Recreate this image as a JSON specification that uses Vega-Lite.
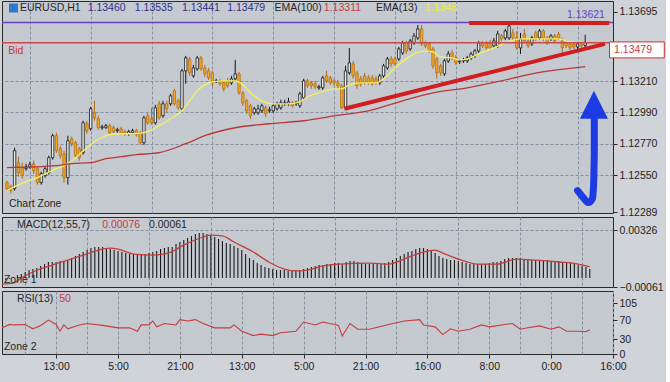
{
"$schema": "https://vega.github.io/schema/vega-lite/v6.json",
"background": "#d0d3d7",
"padding": {"left": 0, "top": 0, "right": 0, "bottom": 26},
"spacing": 4,
"bounds": "flush",
"config": {
 "view": {"fill": "#c5cad1", "stroke": "#2a2a2a", "strokeWidth": 1},
 "font": "Liberation Sans",
 "axis": {"labelFont": "Liberation Sans", "labelFontSize": 10.5, "labelColor": "#1e1e1e", "tickColor": "#2a2a2a", "gridColor": "#8591a3", "gridDash": [3, 2], "gridWidth": 1, "domain": false, "title": null, "labelOverlap": false}
},
"datasets": {
 "k": [
{"i":0,"o":1.12498,"h":1.12512,"l":1.12442,"c":1.12456},
{"i":1,"o":1.12470,"h":1.12484,"l":1.12421,"c":1.12442},
{"i":2,"o":1.12456,"h":1.12743,"l":1.12442,"c":1.12722},
{"i":3,"o":1.12638,"h":1.12680,"l":1.12540,"c":1.12568},
{"i":4,"o":1.12603,"h":1.12638,"l":1.12526,"c":1.12547},
{"i":5,"o":1.12596,"h":1.12631,"l":1.12582,"c":1.12610},
{"i":6,"o":1.12610,"h":1.12645,"l":1.12596,"c":1.12624},
{"i":7,"o":1.12631,"h":1.12652,"l":1.12561,"c":1.12582},
{"i":8,"o":1.12596,"h":1.12610,"l":1.12484,"c":1.12498},
{"i":9,"o":1.12498,"h":1.12575,"l":1.12484,"c":1.12561},
{"i":10,"o":1.12547,"h":1.12610,"l":1.12533,"c":1.12596},
{"i":11,"o":1.12568,"h":1.12687,"l":1.12554,"c":1.12673},
{"i":12,"o":1.12673,"h":1.12841,"l":1.12659,"c":1.12827},
{"i":13,"o":1.12827,"h":1.12848,"l":1.12708,"c":1.12722},
{"i":14,"o":1.12736,"h":1.12757,"l":1.12666,"c":1.12687},
{"i":15,"o":1.12701,"h":1.12722,"l":1.12498,"c":1.12533},
{"i":16,"o":1.12533,"h":1.12827,"l":1.12484,"c":1.12792},
{"i":17,"o":1.12806,"h":1.12820,"l":1.12750,"c":1.12771},
{"i":18,"o":1.12778,"h":1.12792,"l":1.12673,"c":1.12687},
{"i":19,"o":1.12736,"h":1.12750,"l":1.12652,"c":1.12673},
{"i":20,"o":1.12708,"h":1.12932,"l":1.12694,"c":1.12918},
{"i":21,"o":1.12911,"h":1.12932,"l":1.12841,"c":1.12862},
{"i":22,"o":1.12876,"h":1.13030,"l":1.12862,"c":1.13016},
{"i":23,"o":1.12988,"h":1.13072,"l":1.12932,"c":1.12953},
{"i":24,"o":1.12946,"h":1.12967,"l":1.12869,"c":1.12883},
{"i":25,"o":1.12883,"h":1.12904,"l":1.12869,"c":1.12890},
{"i":26,"o":1.12883,"h":1.12911,"l":1.12876,"c":1.12897},
{"i":27,"o":1.12897,"h":1.12911,"l":1.12834,"c":1.12848},
{"i":28,"o":1.12883,"h":1.12897,"l":1.12841,"c":1.12855},
{"i":29,"o":1.12862,"h":1.12883,"l":1.12848,"c":1.12869},
{"i":30,"o":1.12876,"h":1.12890,"l":1.12834,"c":1.12848},
{"i":31,"o":1.12855,"h":1.12869,"l":1.12827,"c":1.12841},
{"i":32,"o":1.12841,"h":1.12869,"l":1.12827,"c":1.12855},
{"i":33,"o":1.12848,"h":1.12876,"l":1.12834,"c":1.12862},
{"i":34,"o":1.12862,"h":1.12876,"l":1.12820,"c":1.12834},
{"i":35,"o":1.12848,"h":1.12862,"l":1.12764,"c":1.12778},
{"i":36,"o":1.12778,"h":1.12967,"l":1.12764,"c":1.12953},
{"i":37,"o":1.12967,"h":1.12988,"l":1.12904,"c":1.12918},
{"i":38,"o":1.12946,"h":1.13023,"l":1.12904,"c":1.12918},
{"i":39,"o":1.12918,"h":1.13044,"l":1.12904,"c":1.13023},
{"i":40,"o":1.13051,"h":1.13072,"l":1.12939,"c":1.12953},
{"i":41,"o":1.12967,"h":1.13072,"l":1.12953,"c":1.13051},
{"i":42,"o":1.13051,"h":1.13072,"l":1.12988,"c":1.13016},
{"i":43,"o":1.13051,"h":1.13121,"l":1.13037,"c":1.13107},
{"i":44,"o":1.13142,"h":1.13156,"l":1.13037,"c":1.13051},
{"i":45,"o":1.13072,"h":1.13086,"l":1.13009,"c":1.13023},
{"i":46,"o":1.13016,"h":1.13296,"l":1.13002,"c":1.13282},
{"i":47,"o":1.13282,"h":1.13387,"l":1.13191,"c":1.13373},
{"i":48,"o":1.13366,"h":1.13380,"l":1.13247,"c":1.13268},
{"i":49,"o":1.13247,"h":1.13324,"l":1.13233,"c":1.13303},
{"i":50,"o":1.13296,"h":1.13387,"l":1.13282,"c":1.13373},
{"i":51,"o":1.13373,"h":1.13387,"l":1.13282,"c":1.13296},
{"i":52,"o":1.13303,"h":1.13324,"l":1.13240,"c":1.13261},
{"i":53,"o":1.13282,"h":1.13303,"l":1.13219,"c":1.13233},
{"i":54,"o":1.13268,"h":1.13282,"l":1.13170,"c":1.13198},
{"i":55,"o":1.13205,"h":1.13226,"l":1.13198,"c":1.13212},
{"i":56,"o":1.13212,"h":1.13226,"l":1.13177,"c":1.13191},
{"i":57,"o":1.13198,"h":1.13212,"l":1.13135,"c":1.13156},
{"i":58,"o":1.13212,"h":1.13233,"l":1.13163,"c":1.13177},
{"i":59,"o":1.13198,"h":1.13247,"l":1.13184,"c":1.13226},
{"i":60,"o":1.13226,"h":1.13359,"l":1.13212,"c":1.13261},
{"i":61,"o":1.13261,"h":1.13275,"l":1.13114,"c":1.13128},
{"i":62,"o":1.13128,"h":1.13142,"l":1.13037,"c":1.13058},
{"i":63,"o":1.13072,"h":1.13086,"l":1.12981,"c":1.13002},
{"i":64,"o":1.13037,"h":1.13051,"l":1.12946,"c":1.12967},
{"i":65,"o":1.12988,"h":1.13030,"l":1.12974,"c":1.13016},
{"i":66,"o":1.12988,"h":1.13044,"l":1.12974,"c":1.13016},
{"i":67,"o":1.13002,"h":1.13051,"l":1.12988,"c":1.13037},
{"i":68,"o":1.13023,"h":1.13037,"l":1.12960,"c":1.12981},
{"i":69,"o":1.13002,"h":1.13030,"l":1.12988,"c":1.13009},
{"i":70,"o":1.13002,"h":1.13051,"l":1.12988,"c":1.13037},
{"i":71,"o":1.13016,"h":1.13065,"l":1.13002,"c":1.13051},
{"i":72,"o":1.13023,"h":1.13079,"l":1.13009,"c":1.13058},
{"i":73,"o":1.13051,"h":1.13079,"l":1.13037,"c":1.13058},
{"i":74,"o":1.13051,"h":1.13093,"l":1.13037,"c":1.13065},
{"i":75,"o":1.13058,"h":1.13072,"l":1.13023,"c":1.13037},
{"i":76,"o":1.13051,"h":1.13072,"l":1.13037,"c":1.13058},
{"i":77,"o":1.13037,"h":1.13135,"l":1.13023,"c":1.13121},
{"i":78,"o":1.13093,"h":1.13226,"l":1.13079,"c":1.13212},
{"i":79,"o":1.13212,"h":1.13226,"l":1.13163,"c":1.13177},
{"i":80,"o":1.13198,"h":1.13212,"l":1.13156,"c":1.13177},
{"i":81,"o":1.13191,"h":1.13212,"l":1.13156,"c":1.13170},
{"i":82,"o":1.13163,"h":1.13184,"l":1.13149,"c":1.13170},
{"i":83,"o":1.13163,"h":1.13247,"l":1.13149,"c":1.13233},
{"i":84,"o":1.13247,"h":1.13282,"l":1.13198,"c":1.13212},
{"i":85,"o":1.13233,"h":1.13247,"l":1.13184,"c":1.13198},
{"i":86,"o":1.13212,"h":1.13226,"l":1.13177,"c":1.13198},
{"i":87,"o":1.13198,"h":1.13219,"l":1.13156,"c":1.13177},
{"i":88,"o":1.13177,"h":1.13191,"l":1.13016,"c":1.13023},
{"i":89,"o":1.13023,"h":1.13317,"l":1.13016,"c":1.13282},
{"i":90,"o":1.13268,"h":1.13443,"l":1.13254,"c":1.13338},
{"i":91,"o":1.13331,"h":1.13352,"l":1.13226,"c":1.13247},
{"i":92,"o":1.13268,"h":1.13282,"l":1.13156,"c":1.13177},
{"i":93,"o":1.13226,"h":1.13247,"l":1.13170,"c":1.13191},
{"i":94,"o":1.13247,"h":1.13268,"l":1.13184,"c":1.13198},
{"i":95,"o":1.13233,"h":1.13254,"l":1.13184,"c":1.13198},
{"i":96,"o":1.13233,"h":1.13254,"l":1.13177,"c":1.13191},
{"i":97,"o":1.13226,"h":1.13247,"l":1.13184,"c":1.13198},
{"i":98,"o":1.13198,"h":1.13261,"l":1.13184,"c":1.13247},
{"i":99,"o":1.13247,"h":1.13331,"l":1.13233,"c":1.13317},
{"i":100,"o":1.13303,"h":1.13380,"l":1.13289,"c":1.13366},
{"i":101,"o":1.13366,"h":1.13387,"l":1.13310,"c":1.13331},
{"i":102,"o":1.13366,"h":1.13380,"l":1.13317,"c":1.13331},
{"i":103,"o":1.13366,"h":1.13450,"l":1.13352,"c":1.13436},
{"i":104,"o":1.13408,"h":1.13492,"l":1.13394,"c":1.13478},
{"i":105,"o":1.13478,"h":1.13492,"l":1.13401,"c":1.13422},
{"i":106,"o":1.13436,"h":1.13506,"l":1.13422,"c":1.13492},
{"i":107,"o":1.13478,"h":1.13548,"l":1.13464,"c":1.13527},
{"i":108,"o":1.13513,"h":1.13604,"l":1.13499,"c":1.13576},
{"i":109,"o":1.13576,"h":1.13604,"l":1.13457,"c":1.13471},
{"i":110,"o":1.13478,"h":1.13492,"l":1.13443,"c":1.13457},
{"i":111,"o":1.13471,"h":1.13485,"l":1.13408,"c":1.13422},
{"i":112,"o":1.13436,"h":1.13450,"l":1.13296,"c":1.13317},
{"i":113,"o":1.13366,"h":1.13380,"l":1.13226,"c":1.13268},
{"i":114,"o":1.13317,"h":1.13331,"l":1.13247,"c":1.13268},
{"i":115,"o":1.13261,"h":1.13366,"l":1.13247,"c":1.13352},
{"i":116,"o":1.13352,"h":1.13422,"l":1.13338,"c":1.13401},
{"i":117,"o":1.13408,"h":1.13429,"l":1.13359,"c":1.13373},
{"i":118,"o":1.13373,"h":1.13394,"l":1.13324,"c":1.13338},
{"i":119,"o":1.13345,"h":1.13366,"l":1.13331,"c":1.13352},
{"i":120,"o":1.13352,"h":1.13373,"l":1.13338,"c":1.13359},
{"i":121,"o":1.13352,"h":1.13387,"l":1.13338,"c":1.13373},
{"i":122,"o":1.13373,"h":1.13415,"l":1.13359,"c":1.13401},
{"i":123,"o":1.13387,"h":1.13436,"l":1.13373,"c":1.13422},
{"i":124,"o":1.13422,"h":1.13492,"l":1.13408,"c":1.13478},
{"i":125,"o":1.13478,"h":1.13492,"l":1.13443,"c":1.13457},
{"i":126,"o":1.13478,"h":1.13492,"l":1.13429,"c":1.13443},
{"i":127,"o":1.13478,"h":1.13499,"l":1.13429,"c":1.13443},
{"i":128,"o":1.13457,"h":1.13513,"l":1.13443,"c":1.13492},
{"i":129,"o":1.13457,"h":1.13562,"l":1.13443,"c":1.13541},
{"i":130,"o":1.13527,"h":1.13541,"l":1.13492,"c":1.13506},
{"i":131,"o":1.13513,"h":1.13576,"l":1.13499,"c":1.13562},
{"i":132,"o":1.13513,"h":1.13618,"l":1.13499,"c":1.13597},
{"i":133,"o":1.13548,"h":1.13576,"l":1.13492,"c":1.13513},
{"i":134,"o":1.13513,"h":1.13562,"l":1.13429,"c":1.13443},
{"i":135,"o":1.13443,"h":1.13548,"l":1.13401,"c":1.13506},
{"i":136,"o":1.13541,"h":1.13576,"l":1.13478,"c":1.13492},
{"i":137,"o":1.13492,"h":1.13506,"l":1.13443,"c":1.13457},
{"i":138,"o":1.13471,"h":1.13527,"l":1.13457,"c":1.13513},
{"i":139,"o":1.13548,"h":1.13562,"l":1.13492,"c":1.13506},
{"i":140,"o":1.13513,"h":1.13576,"l":1.13499,"c":1.13562},
{"i":141,"o":1.13562,"h":1.13576,"l":1.13492,"c":1.13513},
{"i":142,"o":1.13513,"h":1.13527,"l":1.13464,"c":1.13478},
{"i":143,"o":1.13506,"h":1.13541,"l":1.13492,"c":1.13527},
{"i":144,"o":1.13527,"h":1.13541,"l":1.13478,"c":1.13492},
{"i":145,"o":1.13541,"h":1.13555,"l":1.13499,"c":1.13513},
{"i":146,"o":1.13492,"h":1.13513,"l":1.13408,"c":1.13443},
{"i":147,"o":1.13478,"h":1.13492,"l":1.13443,"c":1.13457},
{"i":148,"o":1.13471,"h":1.13485,"l":1.13429,"c":1.13443},
{"i":149,"o":1.13471,"h":1.13485,"l":1.13436,"c":1.13450},
{"i":150,"o":1.13450,"h":1.13485,"l":1.13436,"c":1.13471},
{"i":151,"o":1.13471,"h":1.13485,"l":1.13443,"c":1.13457},
{"i":152,"o":1.13460,"h":1.13535,"l":1.13441,"c":1.13479}
 ],
 "ema": [
{"k":"e13","i":0,"p":1.12442},{"k":"e13","i":2,"p":1.12470},{"k":"e13","i":5,"p":1.12505},{"k":"e13","i":8,"p":1.12533},{"k":"e13","i":13,"p":1.12596},{"k":"e13","i":15,"p":1.12617},{"k":"e13","i":18,"p":1.12673},{"k":"e13","i":21,"p":1.12743},{"k":"e13","i":23,"p":1.12785},{"k":"e13","i":26,"p":1.12827},{"k":"e13","i":29,"p":1.12841},{"k":"e13","i":33,"p":1.12841},{"k":"e13","i":36,"p":1.12848},{"k":"e13","i":38,"p":1.12869},{"k":"e13","i":40,"p":1.12897},{"k":"e13","i":43,"p":1.12946},{"k":"e13","i":46,"p":1.13002},{"k":"e13","i":48,"p":1.13072},{"k":"e13","i":50,"p":1.13142},{"k":"e13","i":52,"p":1.13184},{"k":"e13","i":54,"p":1.13205},{"k":"e13","i":57,"p":1.13212},{"k":"e13","i":60,"p":1.13212},{"k":"e13","i":62,"p":1.13184},{"k":"e13","i":64,"p":1.13128},{"k":"e13","i":67,"p":1.13072},{"k":"e13","i":70,"p":1.13051},{"k":"e13","i":74,"p":1.13051},{"k":"e13","i":77,"p":1.13065},{"k":"e13","i":79,"p":1.13100},{"k":"e13","i":82,"p":1.13128},{"k":"e13","i":86,"p":1.13156},{"k":"e13","i":88,"p":1.13156},{"k":"e13","i":90,"p":1.13184},{"k":"e13","i":93,"p":1.13198},{"k":"e13","i":97,"p":1.13198},{"k":"e13","i":99,"p":1.13226},{"k":"e13","i":102,"p":1.13303},{"k":"e13","i":105,"p":1.13366},{"k":"e13","i":107,"p":1.13401},{"k":"e13","i":110,"p":1.13422},{"k":"e13","i":112,"p":1.13415},{"k":"e13","i":114,"p":1.13380},{"k":"e13","i":117,"p":1.13373},{"k":"e13","i":119,"p":1.13359},{"k":"e13","i":121,"p":1.13366},{"k":"e13","i":124,"p":1.13401},{"k":"e13","i":128,"p":1.13443},{"k":"e13","i":131,"p":1.13478},{"k":"e13","i":135,"p":1.13506},{"k":"e13","i":142,"p":1.13506},{"k":"e13","i":145,"p":1.13506},{"k":"e13","i":148,"p":1.13485},{"k":"e13","i":152,"p":1.13480},
{"k":"e100","i":0,"p":1.12603},{"k":"e100","i":13,"p":1.12617},{"k":"e100","i":17,"p":1.12631},{"k":"e100","i":22,"p":1.12638},{"k":"e100","i":26,"p":1.12666},{"k":"e100","i":30,"p":1.12680},{"k":"e100","i":34,"p":1.12694},{"k":"e100","i":40,"p":1.12708},{"k":"e100","i":47,"p":1.12771},{"k":"e100","i":52,"p":1.12827},{"k":"e100","i":60,"p":1.12883},{"k":"e100","i":69,"p":1.12911},{"k":"e100","i":78,"p":1.12932},{"k":"e100","i":86,"p":1.12967},{"k":"e100","i":95,"p":1.13002},{"k":"e100","i":104,"p":1.13072},{"k":"e100","i":112,"p":1.13128},{"k":"e100","i":121,"p":1.13163},{"k":"e100","i":130,"p":1.13212},{"k":"e100","i":138,"p":1.13261},{"k":"e100","i":147,"p":1.13296},{"k":"e100","i":152,"p":1.13311}
 ],
 "macd": [
{"i":0,"v":-0.00014},{"i":1,"v":-0.00014},{"i":2,"v":-0.00007},{"i":3,"v":0.00007},{"i":4,"v":0.00020},{"i":5,"v":0.00027},{"i":6,"v":0.00041},{"i":7,"v":0.00054},{"i":8,"v":0.00061},{"i":9,"v":0.00068},{"i":10,"v":0.00082},{"i":11,"v":0.00095},{"i":12,"v":0.00109},{"i":13,"v":0.00109},{"i":14,"v":0.00109},{"i":15,"v":0.00116},{"i":16,"v":0.00116},{"i":17,"v":0.00116},{"i":18,"v":0.00136},{"i":19,"v":0.00150},{"i":20,"v":0.00163},{"i":21,"v":0.00177},{"i":22,"v":0.00190},{"i":23,"v":0.00204},{"i":24,"v":0.00211},{"i":25,"v":0.00211},{"i":26,"v":0.00211},{"i":27,"v":0.00204},{"i":28,"v":0.00197},{"i":29,"v":0.00190},{"i":30,"v":0.00184},{"i":31,"v":0.00177},{"i":32,"v":0.00170},{"i":33,"v":0.00163},{"i":34,"v":0.00163},{"i":35,"v":0.00156},{"i":36,"v":0.00163},{"i":37,"v":0.00163},{"i":38,"v":0.00170},{"i":39,"v":0.00177},{"i":40,"v":0.00184},{"i":41,"v":0.00197},{"i":42,"v":0.00204},{"i":43,"v":0.00211},{"i":44,"v":0.00211},{"i":45,"v":0.00231},{"i":46,"v":0.00245},{"i":47,"v":0.00258},{"i":48,"v":0.00272},{"i":49,"v":0.00286},{"i":50,"v":0.00299},{"i":51,"v":0.00306},{"i":52,"v":0.00306},{"i":53,"v":0.00299},{"i":54,"v":0.00292},{"i":55,"v":0.00279},{"i":56,"v":0.00265},{"i":57,"v":0.00252},{"i":58,"v":0.00238},{"i":59,"v":0.00231},{"i":60,"v":0.00218},{"i":61,"v":0.00204},{"i":62,"v":0.00190},{"i":63,"v":0.00163},{"i":64,"v":0.00136},{"i":65,"v":0.00122},{"i":66,"v":0.00102},{"i":67,"v":0.00088},{"i":68,"v":0.00075},{"i":69,"v":0.00068},{"i":70,"v":0.00061},{"i":71,"v":0.00054},{"i":72,"v":0.00054},{"i":73,"v":0.00054},{"i":74,"v":0.00048},{"i":75,"v":0.00048},{"i":76,"v":0.00054},{"i":77,"v":0.00054},{"i":78,"v":0.00061},{"i":79,"v":0.00068},{"i":80,"v":0.00075},{"i":81,"v":0.00082},{"i":82,"v":0.00088},{"i":83,"v":0.00088},{"i":84,"v":0.00095},{"i":85,"v":0.00095},{"i":86,"v":0.00102},{"i":87,"v":0.00102},{"i":88,"v":0.00095},{"i":89,"v":0.00109},{"i":90,"v":0.00116},{"i":91,"v":0.00116},{"i":92,"v":0.00109},{"i":93,"v":0.00102},{"i":94,"v":0.00095},{"i":95,"v":0.00095},{"i":96,"v":0.00095},{"i":97,"v":0.00095},{"i":98,"v":0.00095},{"i":99,"v":0.00102},{"i":100,"v":0.00109},{"i":101,"v":0.00122},{"i":102,"v":0.00136},{"i":103,"v":0.00150},{"i":104,"v":0.00163},{"i":105,"v":0.00177},{"i":106,"v":0.00184},{"i":107,"v":0.00197},{"i":108,"v":0.00204},{"i":109,"v":0.00204},{"i":110,"v":0.00197},{"i":111,"v":0.00184},{"i":112,"v":0.00170},{"i":113,"v":0.00150},{"i":114,"v":0.00136},{"i":115,"v":0.00129},{"i":116,"v":0.00122},{"i":117,"v":0.00122},{"i":118,"v":0.00116},{"i":119,"v":0.00109},{"i":120,"v":0.00102},{"i":121,"v":0.00095},{"i":122,"v":0.00095},{"i":123,"v":0.00095},{"i":124,"v":0.00095},{"i":125,"v":0.00095},{"i":126,"v":0.00102},{"i":127,"v":0.00109},{"i":128,"v":0.00109},{"i":129,"v":0.00116},{"i":130,"v":0.00129},{"i":131,"v":0.00136},{"i":132,"v":0.00136},{"i":133,"v":0.00136},{"i":134,"v":0.00136},{"i":135,"v":0.00129},{"i":136,"v":0.00129},{"i":137,"v":0.00122},{"i":138,"v":0.00122},{"i":139,"v":0.00122},{"i":140,"v":0.00122},{"i":141,"v":0.00122},{"i":142,"v":0.00116},{"i":143,"v":0.00116},{"i":144,"v":0.00116},{"i":145,"v":0.00109},{"i":146,"v":0.00109},{"i":147,"v":0.00102},{"i":148,"v":0.00095},{"i":149,"v":0.00088},{"i":150,"v":0.00082},{"i":151,"v":0.00075},{"i":152,"v":0.00061}
 ],
 "sig": [
{"i":0,"v":-0.00041},{"i":3,"v":-0.00034},{"i":5,"v":0.0},{"i":8,"v":0.00041},{"i":13,"v":0.00088},{"i":17,"v":0.00122},{"i":21,"v":0.00156},{"i":26,"v":0.00197},{"i":28,"v":0.00204},{"i":30,"v":0.00197},{"i":34,"v":0.00163},{"i":39,"v":0.00156},{"i":43,"v":0.00170},{"i":47,"v":0.00224},{"i":52,"v":0.00279},{"i":54,"v":0.00292},{"i":57,"v":0.00286},{"i":60,"v":0.00245},{"i":65,"v":0.00177},{"i":69,"v":0.00109},{"i":73,"v":0.00061},{"i":76,"v":0.00048},{"i":79,"v":0.00054},{"i":83,"v":0.00082},{"i":87,"v":0.00095},{"i":95,"v":0.00102},{"i":100,"v":0.00095},{"i":104,"v":0.00129},{"i":108,"v":0.00170},{"i":112,"v":0.00190},{"i":114,"v":0.00170},{"i":118,"v":0.00129},{"i":123,"v":0.00095},{"i":128,"v":0.00095},{"i":133,"v":0.00129},{"i":138,"v":0.00122},{"i":144,"v":0.00109},{"i":149,"v":0.00095},{"i":152,"v":0.00076}
 ],
 "rsi": [
{"i":0,"v":54},{"i":2,"v":61},{"i":3,"v":60},{"i":6,"v":61},{"i":8,"v":52},{"i":10,"v":59},{"i":12,"v":70},{"i":14,"v":61},{"i":15,"v":47},{"i":16,"v":60},{"i":17,"v":52},{"i":20,"v":60},{"i":22,"v":63},{"i":26,"v":59},{"i":30,"v":54},{"i":33,"v":54},{"i":35,"v":47},{"i":36,"v":60},{"i":38,"v":60},{"i":39,"v":68},{"i":40,"v":56},{"i":42,"v":63},{"i":45,"v":60},{"i":46,"v":71},{"i":48,"v":68},{"i":50,"v":71},{"i":52,"v":63},{"i":55,"v":54},{"i":59,"v":54},{"i":60,"v":60},{"i":62,"v":47},{"i":65,"v":38},{"i":67,"v":41},{"i":70,"v":38},{"i":72,"v":44},{"i":76,"v":47},{"i":78,"v":66},{"i":81,"v":60},{"i":83,"v":66},{"i":86,"v":61},{"i":87,"v":59},{"i":88,"v":37},{"i":90,"v":63},{"i":92,"v":51},{"i":95,"v":51},{"i":100,"v":61},{"i":104,"v":68},{"i":108,"v":71},{"i":109,"v":60},{"i":112,"v":56},{"i":114,"v":40},{"i":116,"v":52},{"i":118,"v":47},{"i":121,"v":51},{"i":124,"v":60},{"i":126,"v":56},{"i":130,"v":61},{"i":132,"v":63},{"i":134,"v":51},{"i":136,"v":54},{"i":139,"v":58},{"i":142,"v":51},{"i":144,"v":56},{"i":146,"v":47},{"i":149,"v":47},{"i":151,"v":46},{"i":152,"v":50}
 ],
 "hl": [{"p":1.13621,"k":"hi"},{"p":1.13479,"k":"bid"}],
 "tl": [{"s":"a","i":121.5,"p":1.13618},{"s":"a","i":158.3,"p":1.13618},{"s":"b","i":88.7,"p":1.13016},{"s":"b","i":157.2,"p":1.13471}],
 "ar": [{"n":1,"i":150.0,"p":1.12442},{"n":2,"i":151.5,"p":1.12393},{"n":3,"i":152.8,"p":1.12358},{"n":4,"i":153.9,"p":1.12386},{"n":5,"i":154.2,"p":1.12477},{"n":6,"i":154.4,"p":1.12722},{"n":7,"i":154.4,"p":1.12946}],
 "ah": [{"i":154.3,"p":1.13044}],
 "bx": [{"i":158.4,"i2":172.8,"p":1.13485,"p2":1.13373}],
 "ic": [{"i":1.7,"p":1.13723}],
 "mt": [
{"i":3.4,"p":1.13723,"t":"EURUSD,H1","r":"lab"},
{"i":21.2,"p":1.13723,"t":"1.13460","r":"val"},
{"i":33.6,"p":1.13723,"t":"1.13535","r":"val"},
{"i":46.0,"p":1.13723,"t":"1.13441","r":"val"},
{"i":57.9,"p":1.13723,"t":"1.13479","r":"val"},
{"i":70.3,"p":1.13723,"t":"EMA(100)","r":"lab"},
{"i":83.3,"p":1.13723,"t":"1.13311","r":"red"},
{"i":97.0,"p":1.13723,"t":"EMA(13)","r":"lab"},
{"i":109.9,"p":1.13723,"t":"1.1348","r":"yel"},
{"i":0.3,"p":1.13422,"t":"Bid","r":"red"},
{"i":0.5,"p":1.12351,"t":"Chart Zone","r":"lab"},
{"i":159.6,"p":1.13429,"t":"1.13479","r":"red"}
 ],
 "pt": [{"i":157.2,"p":1.13674,"t":"1.13621","r":"pur"}],
 "xt": [
{"i":3.9,"v":0.0036,"t":"MACD(12,55,7)","r":"lab"},
{"i":25.9,"v":0.0036,"t":"0.00076","r":"red"},
{"i":38.0,"v":0.0036,"t":"0.00061","r":"lab"},
{"i":0.5,"v":-0.0001,"t":"Zone 1","r":"lab"}
 ],
 "rt": [
{"i":3.9,"v":113,"t":"RSI(13)","r":"lab"},
{"i":14.8,"v":113,"t":"50","r":"red"},
{"i":0.5,"v":14,"t":"Zone 2","r":"lab"}
 ]
},
"vconcat": [
 {
  "width": 611, "height": 212,
  "layer": [
   {"data": {"name": "k"}, "mark": {"type": "rule", "strokeWidth": 1, "clip": true},
    "encoding": {
     "x": {"field": "i", "type": "quantitative", "scale": {"domain": [0, 158], "nice": false, "zero": false},
       "axis": {"values": [6,14,22,30,38,46,54,62,70,78,86,94,102,110,118,126,134,142,150], "labels": false, "ticks": false, "domain": false, "grid": true, "title": null, "minExtent": 0, "maxExtent": 0}},
     "y": {"field": "l", "type": "quantitative", "scale": {"domain": [1.12285, 1.13772], "nice": false, "zero": false},
       "axis": {"orient": "right", "values": [1.13695, 1.1321, 1.1299, 1.1277, 1.1255, 1.12289], "format": ".5f", "tickSize": 4, "labelPadding": 2, "grid": true, "title": null, "labelOverlap": false,
         "gridOpacity": {"condition": {"test": "datum.value > 1.1365 || datum.value < 1.123", "value": 0}, "value": 1}}},
     "y2": {"field": "h"},
     "color": {"condition": {"test": "datum.c >= datum.o", "value": "#141414"}, "value": "#b06a12"}
    }},
   {"data": {"name": "k"}, "mark": {"type": "bar", "size": 2.4, "strokeWidth": 0.8, "clip": true},
    "encoding": {
     "x": {"field": "i", "type": "quantitative", "scale": {"domain": [0, 158], "nice": false, "zero": false}},
     "y": {"field": "o", "type": "quantitative", "scale": {"domain": [1.12285, 1.13772], "nice": false, "zero": false}},
     "y2": {"field": "c"},
     "fill": {"condition": {"test": "datum.c >= datum.o", "value": "#ececec"}, "value": "#f2a428"},
     "stroke": {"condition": {"test": "datum.c >= datum.o", "value": "#141414"}, "value": "#b8720f"}
    }},
   {"data": {"name": "ema"}, "mark": {"type": "line", "strokeWidth": 1.3, "interpolate": "monotone", "clip": true},
    "encoding": {
     "x": {"field": "i", "type": "quantitative", "scale": {"domain": [0, 158], "nice": false, "zero": false}},
     "y": {"field": "p", "type": "quantitative", "scale": {"domain": [1.12285, 1.13772], "nice": false, "zero": false}},
     "color": {"field": "k", "type": "nominal", "legend": null, "scale": {"domain": ["e100","e13","hi","bid","lab","val","red","yel","pur"], "range": ["#b83838","#f4f25a","#6e3cc8","#c84a4a","#262626","#2e2e88","#c43c3c","#eeea38","#6e3cc8"]}}
    }},
   {"data": {"name": "hl"}, "mark": {"type": "rule", "strokeWidth": 1.4},
    "encoding": {
     "y": {"field": "p", "type": "quantitative", "scale": {"domain": [1.12285, 1.13772], "nice": false, "zero": false}},
     "color": {"field": "k", "type": "nominal", "legend": null, "scale": {"domain": ["e100","e13","hi","bid","lab","val","red","yel","pur"], "range": ["#b83838","#f4f25a","#6e3cc8","#c84a4a","#262626","#2e2e88","#c43c3c","#eeea38","#6e3cc8"]}}
    }},
   {"data": {"name": "tl"}, "mark": {"type": "line", "strokeWidth": 4, "color": "#d11d1d", "strokeCap": "butt"},
    "encoding": {
     "x": {"field": "i", "type": "quantitative", "scale": {"domain": [0, 158], "nice": false, "zero": false}},
     "y": {"field": "p", "type": "quantitative", "scale": {"domain": [1.12285, 1.13772], "nice": false, "zero": false}},
     "detail": {"field": "s", "type": "nominal"}
    }},
   {"data": {"name": "ar"}, "mark": {"type": "line", "strokeWidth": 7, "color": "#1c3be4", "strokeCap": "round", "strokeJoin": "round", "interpolate": "monotone"},
    "encoding": {
     "x": {"field": "i", "type": "quantitative", "scale": {"domain": [0, 158], "nice": false, "zero": false}},
     "y": {"field": "p", "type": "quantitative", "scale": {"domain": [1.12285, 1.13772], "nice": false, "zero": false}},
     "order": {"field": "n", "type": "quantitative"}
    }},
   {"data": {"name": "ah"}, "mark": {"type": "point", "shape": "M0,-1L1,1L-1,1Z", "size": 784, "filled": true, "color": "#1c3be4", "opacity": 1, "strokeWidth": 0},
    "encoding": {
     "x": {"field": "i", "type": "quantitative", "scale": {"domain": [0, 158], "nice": false, "zero": false}},
     "y": {"field": "p", "type": "quantitative", "scale": {"domain": [1.12285, 1.13772], "nice": false, "zero": false}}
    }},
   {"data": {"name": "bx"}, "mark": {"type": "rect", "fill": "#ffffff", "stroke": "#c83030", "strokeWidth": 1},
    "encoding": {
     "x": {"field": "i", "type": "quantitative", "scale": {"domain": [0, 158], "nice": false, "zero": false}},
     "x2": {"field": "i2"},
     "y": {"field": "p", "type": "quantitative", "scale": {"domain": [1.12285, 1.13772], "nice": false, "zero": false}},
     "y2": {"field": "p2"}
    }},
   {"data": {"name": "ic"}, "mark": {"type": "point", "shape": "square", "size": 81, "filled": true, "color": "#2e78d0", "opacity": 1},
    "encoding": {
     "x": {"field": "i", "type": "quantitative", "scale": {"domain": [0, 158], "nice": false, "zero": false}},
     "y": {"field": "p", "type": "quantitative", "scale": {"domain": [1.12285, 1.13772], "nice": false, "zero": false}}
    }},
   {"data": {"name": "mt"}, "mark": {"type": "text", "align": "left", "baseline": "middle", "fontSize": 10.5, "font": "Liberation Sans"},
    "encoding": {
     "x": {"field": "i", "type": "quantitative", "scale": {"domain": [0, 158], "nice": false, "zero": false}},
     "y": {"field": "p", "type": "quantitative", "scale": {"domain": [1.12285, 1.13772], "nice": false, "zero": false}},
     "text": {"field": "t"},
     "color": {"field": "r", "type": "nominal", "legend": null, "scale": {"domain": ["e100","e13","hi","bid","lab","val","red","yel","pur"], "range": ["#b83838","#f4f25a","#6e3cc8","#c84a4a","#262626","#2e2e88","#c43c3c","#eeea38","#6e3cc8"]}}
    }},
   {"data": {"name": "pt"}, "mark": {"type": "text", "align": "right", "baseline": "middle", "fontSize": 10.5, "font": "Liberation Sans"},
    "encoding": {
     "x": {"field": "i", "type": "quantitative", "scale": {"domain": [0, 158], "nice": false, "zero": false}},
     "y": {"field": "p", "type": "quantitative", "scale": {"domain": [1.12285, 1.13772], "nice": false, "zero": false}},
     "text": {"field": "t"},
     "color": {"field": "r", "type": "nominal", "legend": null, "scale": {"domain": ["e100","e13","hi","bid","lab","val","red","yel","pur"], "range": ["#b83838","#f4f25a","#6e3cc8","#c84a4a","#262626","#2e2e88","#c43c3c","#eeea38","#6e3cc8"]}}
    }}
  ]
 },
 {
  "width": 611, "height": 70,
  "layer": [
   {"data": {"name": "macd"}, "mark": {"type": "rule", "strokeWidth": 1.1, "color": "#1a1a1a", "clip": true},
    "encoding": {
     "x": {"field": "i", "type": "quantitative", "scale": {"domain": [0, 158], "nice": false, "zero": false},
       "axis": {"values": [6,14,22,30,38,46,54,62,70,78,86,94,102,110,118,126,134,142,150], "labels": false, "ticks": false, "domain": false, "grid": true, "title": null, "minExtent": 0, "maxExtent": 0}},
     "y": {"field": "v", "type": "quantitative", "scale": {"domain": [-0.00061, 0.00415], "nice": false, "zero": false},
       "axis": {"orient": "right", "values": [0.00326, -0.00061], "format": ".5f", "tickSize": 4, "labelPadding": 2, "grid": true, "title": null, "labelOverlap": false,
         "gridOpacity": {"condition": {"test": "datum.value < 0", "value": 0}, "value": 1}}},
     "y2": {"datum": 0}
    }},
   {"data": {"name": "sig"}, "mark": {"type": "line", "strokeWidth": 1.3, "color": "#c63c3c", "interpolate": "monotone", "clip": true},
    "encoding": {
     "x": {"field": "i", "type": "quantitative", "scale": {"domain": [0, 158], "nice": false, "zero": false}},
     "y": {"field": "v", "type": "quantitative", "scale": {"domain": [-0.00061, 0.00415], "nice": false, "zero": false}}
    }},
   {"data": {"name": "xt"}, "mark": {"type": "text", "align": "left", "baseline": "middle", "fontSize": 10.5, "font": "Liberation Sans"},
    "encoding": {
     "x": {"field": "i", "type": "quantitative", "scale": {"domain": [0, 158], "nice": false, "zero": false}},
     "y": {"field": "v", "type": "quantitative", "scale": {"domain": [-0.00061, 0.00415], "nice": false, "zero": false}},
     "text": {"field": "t"},
     "color": {"field": "r", "type": "nominal", "legend": null, "scale": {"domain": ["e100","e13","hi","bid","lab","val","red","yel","pur"], "range": ["#b83838","#f4f25a","#6e3cc8","#c84a4a","#262626","#2e2e88","#c43c3c","#eeea38","#6e3cc8"]}}
    }}
  ]
 },
 {
  "width": 611, "height": 63,
  "resolve": {"axis": {"x": "independent", "y": "independent"}},
  "layer": [
   {"data": {"name": "rsi"}, "mark": {"type": "line", "strokeWidth": 1.1, "color": "#c63c3c", "clip": true},
    "encoding": {
     "x": {"field": "i", "type": "quantitative", "scale": {"domain": [0, 158], "nice": false, "zero": false},
       "axis": {"orient": "bottom", "values": [6,22,38,54,70,86,102,118,134,150], "labels": false, "ticks": false, "domain": false, "grid": true, "title": null, "minExtent": 0, "maxExtent": 0}},
     "y": {"field": "v", "type": "quantitative", "scale": {"domain": [0, 130], "nice": false, "zero": false},
       "axis": {"orient": "right", "values": [0, 105], "format": "d", "tickSize": 4, "labelPadding": 2, "grid": false, "title": null, "labelOverlap": false}}
    }},
   {"mark": {"type": "rule", "strokeDash": [3, 2], "color": "#8591a3", "strokeWidth": 1},
    "encoding": {
     "y": {"datum": 105, "type": "quantitative", "scale": {"domain": [0, 130], "nice": false, "zero": false},
       "axis": {"orient": "right", "values": [30, 70], "format": "d", "tickSize": 4, "labelPadding": 2, "grid": false, "title": null, "labelOverlap": false, "offset": 0}}
    }},
   {"data": {"name": "rt"}, "mark": {"type": "text", "align": "left", "baseline": "middle", "fontSize": 10.5, "font": "Liberation Sans"},
    "encoding": {
     "x": {"field": "i", "type": "quantitative", "scale": {"domain": [0, 158], "nice": false, "zero": false},
       "axis": {"orient": "bottom", "values": [14,30,46,62,78,94,110,126,142,158], "grid": true, "domain": false, "ticks": true, "title": null, "tickSize": 4, "labelPadding": 3, "labelOverlap": false, "labelFlush": false,
         "labelExpr": "['13:00','5:00','21:00','13:00','5:00','21:00','16:00','8:00','0:00','16:00'][indexof([14,30,46,62,78,94,110,126,142,158], datum.value)]"}},
     "y": {"field": "v", "type": "quantitative", "scale": {"domain": [0, 130], "nice": false, "zero": false}, "axis": null},
     "text": {"field": "t"},
     "color": {"field": "r", "type": "nominal", "legend": null, "scale": {"domain": ["e100","e13","hi","bid","lab","val","red","yel","pur"], "range": ["#b83838","#f4f25a","#6e3cc8","#c84a4a","#262626","#2e2e88","#c43c3c","#eeea38","#6e3cc8"]}}
    }}
  ]
 }
]
}
